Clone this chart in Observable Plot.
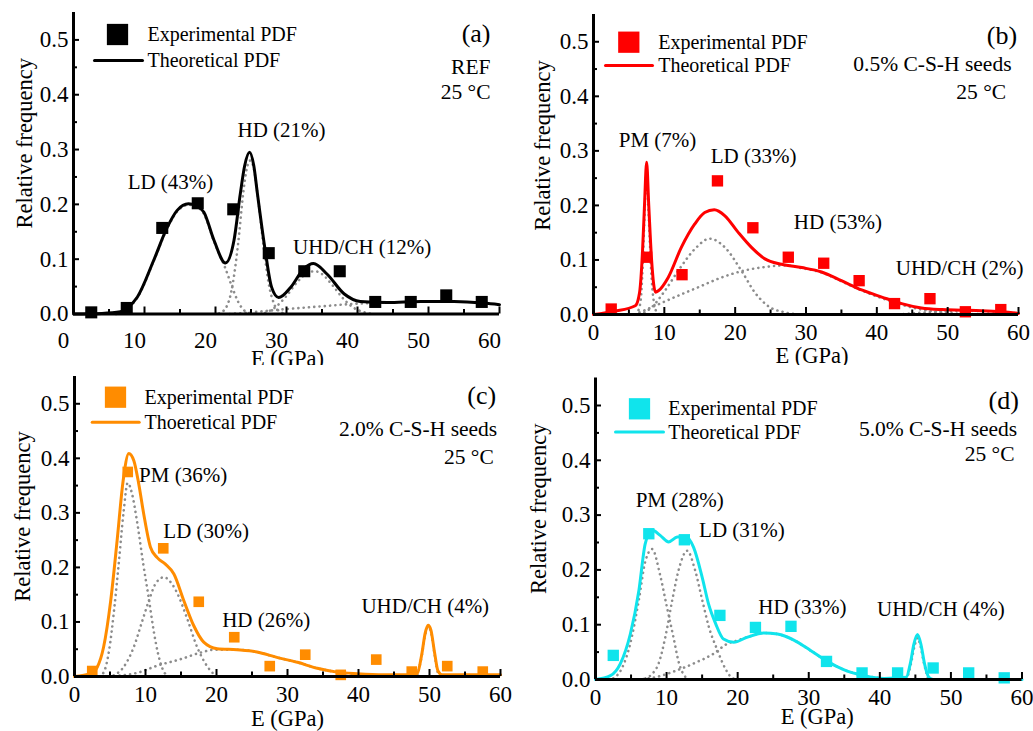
<!DOCTYPE html>
<html><head><meta charset="utf-8">
<script src="https://cdn.jsdelivr.net/npm/d3@7"></script>
<script src="https://cdn.jsdelivr.net/npm/@observablehq/plot@0.6"></script>
<style>
body{margin:0;background:#fff;}
#fig{position:relative;width:1033px;height:731px;overflow:hidden;background:#fff;}
#fig > div{position:absolute;}
svg{overflow:visible;}
</style></head><body><div id="fig"></div>
<script>
// ---------- data ----------
const binE = [2.5,7.5,12.5,17.5,22.5,27.5,32.5,37.5,42.5,47.5,52.5,57.5];
const xMajor = [0,10,20,30,40,50,60];
const xMinor = [5,15,25,35,45,55];
const yMajor = [0,0.1,0.2,0.3,0.4,0.5];
const yMinor = [0.05,0.15,0.25,0.35,0.45];

const expA = [0.003,0.011,0.157,0.202,0.191,0.111,0.078,0.078,0.022,0.022,0.034,0.022];
const expB = [0.010,0.105,0.073,0.245,0.159,0.105,0.094,0.062,0.020,0.029,0.005,0.009];
const expC = [0.010,0.375,0.235,0.137,0.072,0.019,0.040,0.003,0.031,0.009,0.019,0.009];
const expD = [0.044,0.266,0.255,0.117,0.095,0.097,0.033,0.012,0.012,0.021,0.012,0.003];

// theoretical PDF curves [E, frequency]
const theoA = [[0,0],[4,0.001],[6.6,0.004],[7.5,0.01],[9,0.031],[11.3,0.098],[13.2,0.158],[14.6,0.189],[16.2,0.201],[17.2,0.198],[18.35,0.186],[19.8,0.134],[21.4,0.093],[22.6,0.134],[23.5,0.22],[24.1,0.27],[24.8,0.295],[25.4,0.27],[25.9,0.22],[27.0,0.116],[27.9,0.049],[28.9,0.030],[30.6,0.049],[32.4,0.082],[33.8,0.092],[35.7,0.073],[38.1,0.037],[40.4,0.023],[44.2,0.021],[48.9,0.023],[53.6,0.023],[57.8,0.020],[60,0.017]];
const theoB = [[0,0],[3,0.006],[5.9,0.016],[6.5,0.04],[6.9,0.11],[7.2,0.2],[7.5,0.279],[7.8,0.2],[8.2,0.1],[8.75,0.041],[9.2,0.044],[10.55,0.068],[12.4,0.123],[14.3,0.166],[15.7,0.187],[17.05,0.192],[18.55,0.181],[20.4,0.151],[22.3,0.123],[24.2,0.102],[26.55,0.092],[29.4,0.086],[32.2,0.078],[35.0,0.062],[37.85,0.045],[40.7,0.032],[43.5,0.020],[46.3,0.012],[49.15,0.009],[52.0,0.008],[54.8,0.007],[57.6,0.005],[60,0.002]];
const theoC = [[0,0],[2.25,0.005],[3.2,0.017],[4.1,0.054],[5.1,0.139],[6.0,0.249],[6.85,0.359],[7.65,0.409],[8.35,0.396],[9.05,0.353],[9.75,0.298],[10.7,0.237],[11.65,0.218],[12.8,0.206],[14.0,0.188],[15.4,0.139],[16.8,0.093],[18.2,0.063],[20.1,0.051],[22.9,0.049],[25.7,0.045],[28.5,0.035],[31.4,0.026],[34.2,0.015],[37.0,0.008],[39.8,0.005],[43.6,0.003],[47.5,0.003],[48.3,0.006],[48.9,0.04],[49.4,0.08],[49.8,0.094],[50.2,0.085],[50.7,0.045],[51.2,0.01],[51.8,0.003],[60,0.003]];
const theoD = [[0,0],[2.1,0.007],[3.5,0.029],[4.9,0.083],[6.1,0.162],[7.0,0.248],[7.96,0.273],[9.1,0.263],[10.3,0.251],[11.5,0.26],[12.65,0.261],[13.8,0.241],[15.0,0.187],[15.9,0.138],[16.9,0.102],[18.0,0.074],[19.45,0.068],[21.3,0.077],[23.7,0.085],[25.6,0.083],[27.9,0.072],[30.25,0.053],[32.6,0.033],[34.9,0.018],[37.8,0.007],[40.6,0.002],[43.7,0.004],[44.3,0.03],[44.8,0.065],[45.3,0.082],[45.8,0.063],[46.3,0.028],[46.9,0.004],[47.5,0],[60,0]];

// deconvoluted phase components (grey dotted)
const compA_LD  = [[6,0],[7.5,0.009],[9,0.03],[11.3,0.097],[13.2,0.156],[14.6,0.187],[16.2,0.199],[17.2,0.196],[18.35,0.183],[19.8,0.132],[21.4,0.083],[22.35,0.049],[23.2,0.022],[24,0.007],[25,0.001],[26,0]];
const compA_HD  = [[20.5,0.001],[21.5,0.012],[22.35,0.049],[23.2,0.13],[23.9,0.22],[24.4,0.265],[24.9,0.28],[25.4,0.265],[26,0.21],[26.8,0.12],[27.5,0.055],[28.2,0.02],[29,0.005],[30,0]];
const compA_UHD = [[27,0.002],[28.5,0.013],[30,0.033],[31.5,0.058],[33,0.075],[34,0.078],[35,0.073],[36.5,0.052],[38,0.028],[39.5,0.011],[41,0.003],[42,0]];
const compA_CH  = [[22,0],[25,0.003],[30,0.009],[35,0.014],[40,0.019],[44.2,0.021]];

const compB_PM  = [[6,0],[6.6,0.02],[6.95,0.09],[7.2,0.18],[7.5,0.265],[7.8,0.18],[8.1,0.09],[8.5,0.025],[9,0.003],[9.5,0]];
const compB_LD  = [[6.5,0],[8.2,0.013],[10.1,0.044],[12,0.081],[14.3,0.12],[16.4,0.139],[18.55,0.123],[20.9,0.08],[22.8,0.04],[24.7,0.015],[27,0.004],[29.4,0]];
const compB_HD  = [[5.8,0],[8.7,0.016],[11.5,0.032],[14.8,0.05],[18.1,0.068],[21.4,0.081],[24.2,0.087],[27,0.09],[29.4,0.085],[32.2,0.077],[35,0.061],[37.85,0.044],[40.7,0.03],[43.5,0.018],[46.3,0.009],[49,0.004],[52,0.001],[54,0]];
const compB_UHD = [[43,0],[46,0.003],[49,0.005],[52,0.007],[55,0.006],[58,0.004],[60,0.002]];

const compC_PM  = [[3.5,0],[4.2,0.01],[4.9,0.05],[5.6,0.125],[6.25,0.21],[6.9,0.3],[7.5,0.355],[8.1,0.335],[8.8,0.285],[9.7,0.205],[10.5,0.14],[11.2,0.08],[11.8,0.04],[12.4,0.014],[13.2,0]];
const compC_LD  = [[5.5,0.002],[6.9,0.017],[8.35,0.054],[9.5,0.1],[10.5,0.14],[11.5,0.172],[12.6,0.182],[13.6,0.172],[14.5,0.152],[15.9,0.105],[17.3,0.053],[18.2,0.029],[19.2,0.01],[20.1,0]];
const compC_HD  = [[5.6,0.001],[8.9,0.007],[11.7,0.02],[15,0.032],[17.8,0.044],[19.7,0.049],[22.9,0.049],[25.7,0.045],[28.5,0.035],[31.4,0.026],[34.2,0.015],[37,0.008],[39.8,0.004],[43,0.001],[46,0]];
const compC_UHD = [[48.3,0.003],[48.9,0.037],[49.4,0.077],[49.8,0.091],[50.2,0.082],[50.7,0.042],[51.2,0.007],[51.8,0]];

const compD_PM  = [[2.5,0.002],[3.7,0.02],[4.9,0.066],[6.1,0.145],[7.0,0.215],[7.96,0.238],[9.1,0.19],[10.0,0.135],[11.0,0.075],[11.7,0.032],[12.7,0.004],[13.3,0]];
const compD_LD  = [[7,0.002],[7.96,0.01],[8.9,0.03],[9.85,0.079],[10.8,0.145],[11.7,0.2],[12.9,0.235],[14.0,0.2],[15.0,0.146],[15.9,0.098],[17.1,0.055],[18.3,0.019],[19.2,0.003],[20,0]];
const compD_HD  = [[6,0],[8.7,0.005],[11.5,0.017],[14.3,0.032],[16.6,0.047],[18.5,0.065],[19.9,0.071],[21.3,0.077],[23.7,0.085],[25.6,0.083],[27.9,0.072],[30.25,0.053],[32.6,0.033],[34.9,0.018],[37.8,0.007],[40.6,0.002],[43,0]];
const compD_UHD = [[43.8,0],[44.4,0.03],[44.9,0.062],[45.3,0.076],[45.7,0.062],[46.2,0.03],[46.8,0]];

// phase labels [text, E, frequency]
const labA = [["LD (43%)",13.66,0.2405],["HD (21%)",29.3,0.335],["UHD/CH (12%)",40.66,0.122]];
const labB = [["PM (7%)",9.04,0.319],["LD (33%)",22.6,0.291],["HD (53%)",34.5,0.169],["UHD/CH (2%)",51.7,0.084]];
const labC = [["PM (36%)",15.3,0.369],["LD (30%)",18.55,0.267],["HD (26%)",27.0,0.104],["UHD/CH (4%)",49.4,0.128]];
const labD = [["PM (28%)",11.85,0.327],["LD (31%)",20.6,0.272],["HD (33%)",29.1,0.131],["UHD/CH (4%)",48.6,0.129]];

const legendExp = "Experimental PDF";
const legendTheo = ["Theoretical PDF","Theoretical PDF","Thoeretical PDF","Theoretical PDF"];
const panelLetters = ["(a)","(b)","(c)","(d)"];
const panelInfo = [["REF","25 °C"],["0.5% C-S-H seeds","25 °C"],["2.0% C-S-H seeds","25 °C"],["5.0% C-S-H seeds","25 °C"]];
const colors = ["#000000","#ff0000","#ff8c00","#10e4ec"];

// ---------- layout ----------
const layouts = [
  {left:0,top:0,width:516,height:365,mL:73,mR:17,mT:12,mB:51.5,tickDx:-10,tickPad:18,sq:6.8,
   leg:{sq:[44,22],txt:74,ln:[21,48],lnLen:48},
   info:[[-9,21],[-9,54.7],[-9,79.7]], yt:[-49,-20], xt:[1,45]},
  {left:516,top:0,width:517,height:365,mL:77,mR:15,mT:14,mB:51,tickDx:0,tickPad:9.5,sq:6.4,
   leg:{sq:[35.3,27.7],txt:64.7,ln:[12,51],lnLen:47},
   info:[[-1.3,21],[-7,49.3],[-12.3,77.7]], yt:[-50.5,-19], xt:[6,41.5]},
  {left:0,top:365,width:516,height:366,mL:74,mR:16,mT:11,mB:55,tickDx:0,tickPad:9.5,sq:6.0,
   leg:{sq:[41,20.7],txt:70,ln:[17.7,45.7],lnLen:47},
   info:[[-4.3,19],[-3.3,53],[-6.7,80.7]], yt:[-51.5,-10], xt:[0,42.5]},
  {left:516,top:365,width:517,height:366,mL:79,mR:11.5,mT:12.6,mB:52,tickDx:0,tickPad:9.5,sq:6.4,
   leg:{sq:[44,30.7],txt:72.7,ln:[20,54],lnLen:48},
   info:[[-3.2,22.4],[-4.8,50.7],[-7.5,75.7]], yt:[-57,-20], xt:[8.5,37]}
];

const exps = [expA,expB,expC,expD];
const theos = [theoA,theoB,theoC,theoD];
const comps = [[compA_LD,compA_HD,compA_UHD,compA_CH],[compB_PM,compB_LD,compB_HD,compB_UHD],[compC_PM,compC_LD,compC_HD,compC_UHD],[compD_PM,compD_LD,compD_HD,compD_UHD]];
const labs = [labA,labB,labC,labD];

const lineShape = {draw(ctx, l){ ctx.moveTo(0,0); ctx.lineTo(l,0); }};
const FONT = "'Liberation Serif', 'Times New Roman', serif";

function panel(i){
  const L = layouts[i], color = colors[i];
  const pts = binE.map((e,k)=>({e, f: exps[i][k]}));
  const T = {fontFamily: FONT};
  return Plot.plot({
    width: L.width, height: L.height,
    marginLeft: L.mL, marginRight: L.mR, marginTop: L.mT, marginBottom: L.mB,
    x: {domain:[0,60], axis:null},
    y: {domain:[0,0.55], axis:null},
    style: {fontFamily: FONT, fontSize: "23px", color: "black", background: "white", overflow: "visible"},
    marks: [
      // components
      ...comps[i].map(c => Plot.line(c, {x: d=>d[0], y: d=>d[1], stroke:"#8c8c8c", strokeWidth:2.6,
          strokeDasharray:"0.1,5.2", strokeLinecap:"round", curve:"monotone-x"})),
      // theoretical
      Plot.line(theos[i], {x: d=>d[0], y: d=>d[1], stroke: color, strokeWidth: 3, curve:"monotone-x"}),
      // experimental
      Plot.dot(pts, {x:"e", y:"f", symbol:"square", r: L.sq, fill: color, stroke: "none"}),
      // axes ticks
      Plot.axisX(xMajor, {tickSize:-7, strokeWidth:2, tickFormat:()=>"", label:null}),
      Plot.axisX(xMinor, {tickSize:-4.5, strokeWidth:2, tickFormat:()=>"", label:null}),
      Plot.axisX(xMajor, {...T, tickSize:0, tickPadding:L.tickPad, dx: L.tickDx, fontSize:23, tickFormat:d=>String(d), label:null}),
      Plot.axisY(yMajor.slice(1), {tickSize:-6, strokeWidth:2, tickFormat:()=>"", label:null}),
      Plot.axisY(yMinor, {tickSize:-4, strokeWidth:2, tickFormat:()=>"", label:null}),
      Plot.axisY(yMajor, {...T, tickSize:0, tickPadding:5, fontSize:23, tickFormat:d3.format(".1f"), label:null}),
      Plot.ruleX([0], {strokeWidth:3}),
      Plot.ruleY([0], {strokeWidth:3}),
      // axis titles
      Plot.text(["Relative frequency"], {...T, frameAnchor:"left", textAnchor:"middle", rotate:-90, dx:L.yt[0], dy:L.yt[1], fontSize:22.5, lineAnchor:"middle"}),
      Plot.text(["E (GPa)"], {...T, frameAnchor:"bottom", textAnchor:"middle", dx:L.xt[0], dy:L.xt[1], fontSize:22.5, lineAnchor:"middle"}),
      // phase labels
      Plot.text(labs[i], {...T, x:d=>d[1], y:d=>d[2], text:d=>d[0], fontSize:21, lineAnchor:"middle"}),
      // legend
      Plot.dot([legendExp], {frameAnchor:"top-left", dx:L.leg.sq[0], dy:L.leg.sq[1], symbol:"square", r:12, fill:color}),
      Plot.text([legendExp], {...T, frameAnchor:"top-left", dx:L.leg.txt, dy:L.leg.sq[1], textAnchor:"start", lineAnchor:"middle", fontSize:20}),
      Plot.vector([legendTheo[i]], {frameAnchor:"top-left", dx:L.leg.ln[0], dy:L.leg.ln[1], length:L.leg.lnLen, anchor:"start", shape:lineShape, stroke:color, strokeWidth:3}),
      Plot.text([legendTheo[i]], {...T, frameAnchor:"top-left", dx:L.leg.txt, dy:L.leg.ln[1], textAnchor:"start", lineAnchor:"middle", fontSize:20}),
      // panel letter & info
      Plot.text([panelLetters[i]], {...T, frameAnchor:"top-right", dx:L.info[0][0], dy:L.info[0][1], textAnchor:"end", lineAnchor:"middle", fontSize:26}),
      Plot.text([panelInfo[i][0]], {...T, frameAnchor:"top-right", dx:L.info[1][0], dy:L.info[1][1], textAnchor:"end", lineAnchor:"middle", fontSize:21.5}),
      Plot.text([panelInfo[i][1]], {...T, frameAnchor:"top-right", dx:L.info[2][0], dy:L.info[2][1], textAnchor:"end", lineAnchor:"middle", fontSize:21.5})
    ]
  });
}

const fig = document.getElementById("fig");
layouts.forEach((L,i)=>{
  const div = document.createElement("div");
  div.style.left = L.left+"px"; div.style.top = L.top+"px";
  div.style.width = L.width+"px"; div.style.height = L.height+"px";
  div.appendChild(panel(i));
  fig.appendChild(div);
});
</script>
</body></html>
